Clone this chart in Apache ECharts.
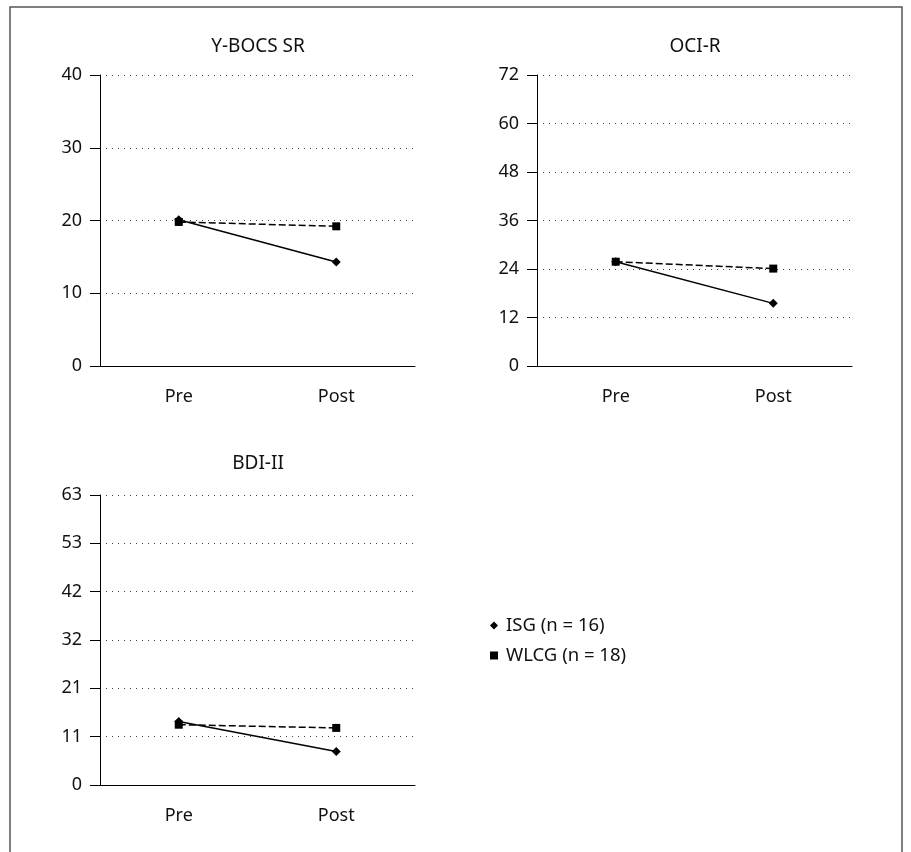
<!DOCTYPE html>
<html>
<head>
<meta charset="utf-8">
<script src="https://cdn.jsdelivr.net/npm/echarts@6/dist/echarts.min.js"></script>
<style>
html,body{margin:0;padding:0;background:#fff;}
#chart{width:911px;height:852px;}
</style>
</head>
<body>
<div id="chart"></div>
<script>
const categories = ['Pre', 'Post'];
const panelTitles = ['Y-BOCS SR', 'OCI-R', 'BDI-II'];
const seriesNames = ['ISG (n = 16)', 'WLCG (n = 18)'];
const ybocsISG = [20.1, 14.3];
const ybocsWLCG = [19.8, 19.2];
const ocirISG = [25.8, 15.5];
const ocirWLCG = [25.8, 24.1];
const bdiISG = [13.8, 7.3];
const bdiWLCG = [13.1, 12.4];
const yMax = [40, 72, 63];
const yInterval = [10, 12, 10.5];

const FONT = 'Noto Sans';
const chart = echarts.init(document.getElementById('chart'));

const grids = [
  {left: 100, top: 75, width: 315, height: 291},
  {left: 537, top: 75, width: 315, height: 291},
  {left: 100, top: 495, width: 315, height: 290}
];

const xAxes = grids.map((g, i) => ({
  type: 'category', gridIndex: i, data: categories, boundaryGap: true,
  axisLine: {lineStyle: {color: '#000', width: 1}},
  axisTick: {alignWithLabel: true, length: 10, lineStyle: {color: '#000'}},
  axisLabel: {color: '#111', fontSize: 18, fontFamily: FONT, margin: 22},
  splitLine: {show: false}
}));

const yAxes = grids.map((g, i) => ({
  type: 'value', gridIndex: i, min: 0, max: yMax[i], interval: yInterval[i],
  axisLine: {show: true, lineStyle: {color: '#000', width: 1}},
  axisTick: {show: true, length: 10, lineStyle: {color: '#000'}},
  axisLabel: {color: '#111', fontSize: 18, fontFamily: FONT, margin: 18,
    formatter: v => String(Math.round(v))},
  splitLine: {show: true, lineStyle: {color: '#444', width: 1, type: [1, 5]}}
}));

const dataSets = [[ybocsISG, ybocsWLCG], [ocirISG, ocirWLCG], [bdiISG, bdiWLCG]];
const series = [];
dataSets.forEach((pair, i) => {
  series.push({
    name: seriesNames[1], type: 'line', xAxisIndex: i, yAxisIndex: i, data: pair[1],
    symbol: 'rect', symbolSize: 8, z: 2,
    lineStyle: {color: '#000', width: 1.5, type: [7, 3]},
    itemStyle: {color: '#000'}
  });
  series.push({
    name: seriesNames[0], type: 'line', xAxisIndex: i, yAxisIndex: i, data: pair[0],
    symbol: 'diamond', symbolSize: 9, z: 3,
    lineStyle: {color: '#000', width: 1.5, type: 'solid'},
    itemStyle: {color: '#000'}
  });
});

const titleCenters = [[258, 37], [695, 37], [258, 454]];

chart.setOption({
  animation: false,
  backgroundColor: '#fff',
  textStyle: {fontFamily: FONT},
  title: panelTitles.map((t, i) => ({
    text: t, left: titleCenters[i][0], top: titleCenters[i][1], textAlign: 'center',
    padding: 0,
    textStyle: {fontSize: 19, fontWeight: 'normal', color: '#111', fontFamily: FONT}
  })),
  legend: {
    orient: 'vertical', left: 490, top: 616, itemGap: 11, itemWidth: 8, itemHeight: 8,
    padding: 0,
    data: [{name: seriesNames[0], icon: 'diamond'}, {name: seriesNames[1], icon: 'rect'}],
    textStyle: {fontSize: 18.5, color: '#111', fontFamily: FONT, padding: [0, 0, 0, 3]},
    itemStyle: {color: '#000'}
  },
  grid: grids,
  xAxis: xAxes,
  yAxis: yAxes,
  series: series,
  graphic: [{
    type: 'rect', shape: {x: 10, y: 7, width: 892, height: 870},
    style: {fill: null, stroke: '#555', lineWidth: 1.5}, silent: true
  }]
});
</script>
</body>
</html>
